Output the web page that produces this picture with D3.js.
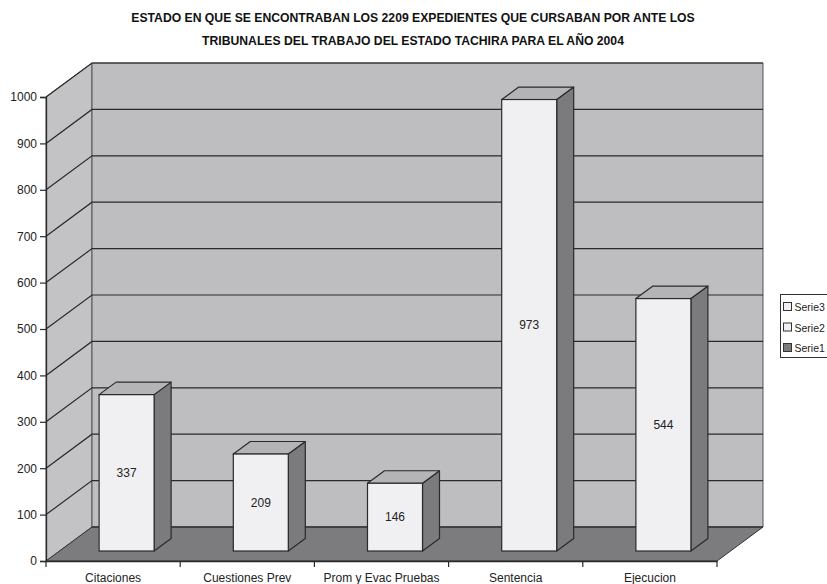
<!DOCTYPE html>
<html><head><meta charset="utf-8">
<script src="https://cdn.jsdelivr.net/npm/d3@7"></script>
<style>body{margin:0;background:#fff}svg{display:block;font-family:"Liberation Sans",Arial,sans-serif}</style>
</head><body>
<svg id="c" width="827" height="584"></svg>
<script>
const titleLines = ["ESTADO EN QUE SE ENCONTRABAN LOS 2209 EXPEDIENTES QUE CURSABAN POR ANTE LOS",
                    "TRIBUNALES DEL TRABAJO DEL ESTADO TACHIRA PARA EL AÑO 2004"];
const categories = ["Citaciones", "Cuestiones Prev", "Prom y Evac Pruebas", "Sentencia", "Ejecucion"];
const values = [337, 209, 146, 973, 544];
const yTicks = [0, 100, 200, 300, 400, 500, 600, 700, 800, 900, 1000];
const legendItems = ["Serie3", "Serie2", "Serie1"];

const FONT = "'Liberation Sans', Arial, sans-serif";
const svg = d3.select("#c");
const DX = 46, DY = -34;          // wall depth offset
const x = d3.scaleBand().domain(categories).range([46, 717]);
const y = d3.scaleLinear().domain([0, 1000]).range([561, 97]);
const ink = "#2a2a2a";

// title
svg.append("g").selectAll("text").data(titleLines).join("text")
  .attr("x", 413).attr("y", (d, i) => 22 + i * 22.5).attr("text-anchor", "middle")
  .attr("font-size", 12.2).attr("font-weight", "bold").attr("fill", "#111").text(d => d);

const x0 = x.range()[0], x1 = x.range()[1];
const pts = a => a.map(p => p.join(",")).join(" ");
// left wall
svg.append("polygon").attr("points", pts([[x0, y(0)], [x0, y(1000)], [x0 + DX, y(1000) + DY], [x0 + DX, y(0) + DY]]))
  .attr("fill", "#c3c3c5").attr("stroke", "#555").attr("stroke-width", 1);
// back wall
svg.append("polygon").attr("points", pts([[x0 + DX, y(0) + DY], [x0 + DX, y(1000) + DY], [x1 + DX, y(1000) + DY], [x1 + DX, y(0) + DY]]))
  .attr("fill", "#bebec0").attr("stroke", "#555").attr("stroke-width", 1);
// floor
svg.append("polygon").attr("points", pts([[x0, y(0)], [x1, y(0)], [x1 + DX, y(0) + DY], [x0 + DX, y(0) + DY]]))
  .attr("fill", "#7c7c7e").attr("stroke", "#333").attr("stroke-width", 1);

// gridlines
const grid = svg.append("g").attr("stroke", ink).attr("stroke-width", 1.2).attr("fill", "none");
grid.selectAll("path.g").data(yTicks.filter(t => t > 0)).join("path")
  .attr("d", t => `M${x0},${y(t)}L${x0 + DX},${y(t) + DY}L${x1 + DX},${y(t) + DY}`);
grid.append("path").attr("d", `M${x0 + DX},${y(0) + DY}L${x1 + DX},${y(0) + DY}`);

// axes
const yAxis = d3.axisLeft(y).tickValues(yTicks).tickFormat(d3.format("d")).tickSize(6).tickPadding(3);
const gy = svg.append("g").attr("transform", `translate(${x0},0)`).call(yAxis)
  .attr("font-family", FONT).attr("font-size", 12);
gy.select(".domain").attr("stroke", ink).attr("stroke-width", 1.3);
gy.selectAll(".tick line").attr("stroke", ink).attr("stroke-width", 1.2);
gy.selectAll("text").attr("fill", "#222");

const xAxis = d3.axisBottom(x).tickSize(0).tickPadding(12);
const gx = svg.append("g").attr("transform", `translate(0,${y(0)})`).call(xAxis)
  .attr("font-family", FONT).attr("font-size", 12);
gx.select(".domain").attr("stroke", ink).attr("stroke-width", 1.3);
gx.selectAll("text").attr("fill", "#222");
gx.selectAll("line.sep").data(categories.concat(["_end"])).join("line").attr("class", "sep")
  .attr("x1", (d, i) => x0 + i * x.bandwidth()).attr("x2", (d, i) => x0 + i * x.bandwidth())
  .attr("y1", 0).attr("y2", 6).attr("stroke", ink).attr("stroke-width", 1.2);

// bars
const shiftX = 13.5, shiftY = -10, bw = 55, bdx = 17, bdy = -12.5;
const bars = svg.append("g").selectAll("g").data(categories.map((c, i) => ({c, v: values[i]}))).join("g");
bars.each(function(d) {
  const g = d3.select(this);
  const xl = x(d.c) + x.bandwidth() / 2 + shiftX - bw / 2, xr = xl + bw;
  const yb = y(0) + shiftY, yt = y(d.v) + shiftY;
  g.append("polygon").attr("points", pts([[xr, yt], [xr + bdx, yt + bdy], [xr + bdx, yb + bdy], [xr, yb]]))
    .attr("fill", "#7b7b7d").attr("stroke", ink).attr("stroke-width", 1.2).attr("stroke-linejoin", "round");
  g.append("polygon").attr("points", pts([[xl, yt], [xl + bdx, yt + bdy], [xr + bdx, yt + bdy], [xr, yt]]))
    .attr("fill", "#b4b4b6").attr("stroke", ink).attr("stroke-width", 1.2).attr("stroke-linejoin", "round");
  g.append("rect").attr("x", xl).attr("y", yt).attr("width", bw).attr("height", yb - yt)
    .attr("fill", "#f0f0f2").attr("stroke", ink).attr("stroke-width", 1.2);
  g.append("text").attr("x", (xl + xr) / 2).attr("y", (yt + yb) / 2 + 4).attr("text-anchor", "middle")
    .attr("font-size", 12).attr("fill", "#222").text(d.v);
});

// legend
const lg = svg.append("g");
lg.append("rect").attr("x", 780.5).attr("y", 294.5).attr("width", 60).attr("height", 63)
  .attr("fill", "#fff").attr("stroke", "#333").attr("stroke-width", 1);
const li = lg.selectAll("g").data(legendItems).join("g")
  .attr("transform", (d, i) => `translate(783,${307 + i * 20.5})`);
li.append("rect").attr("x", 0.5).attr("y", -4.5).attr("width", 8).attr("height", 8)
  .attr("fill", (d, i) => i === 2 ? "#7b7b7d" : "#f0f0f2").attr("stroke", "#333").attr("stroke-width", 1);
li.append("text").attr("x", 11.5).attr("y", 4).attr("font-size", 10.5).attr("fill", "#222").text(d => d);
</script>
</body></html>
